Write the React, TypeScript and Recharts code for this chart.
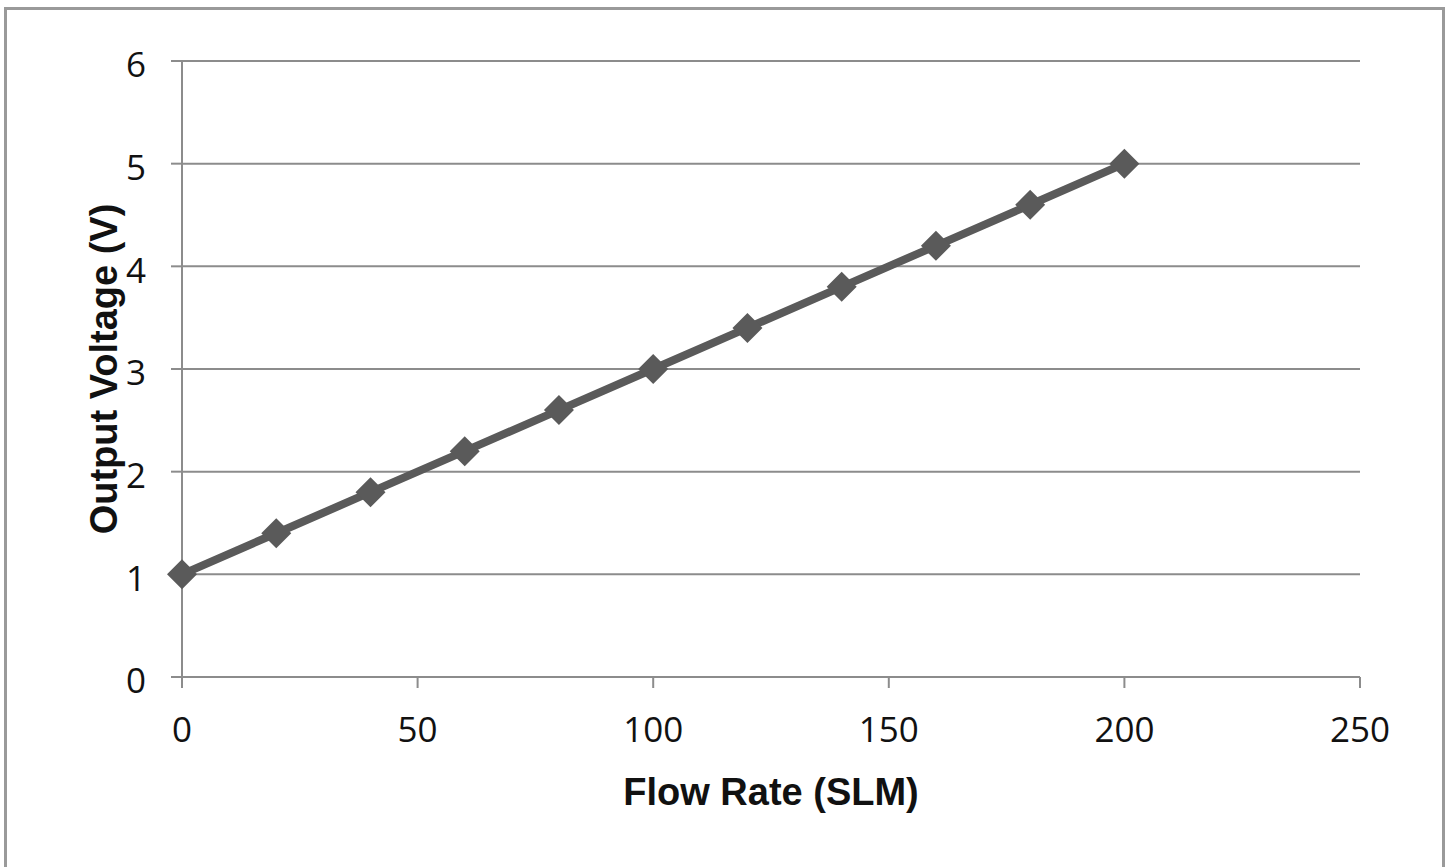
import React from 'react';
import { LineChart, Line, XAxis, YAxis, CartesianGrid } from 'recharts';

// flow rate (SLM) vs output voltage (V)
const flowRates = [0, 20, 40, 60, 80, 100, 120, 140, 160, 180, 200];
const voltages = [1, 1.4, 1.8, 2.2, 2.6, 3.0, 3.4, 3.8, 4.2, 4.6, 5.0];
const xTicks = [0, 50, 100, 150, 200, 250];
const yTicks = [0, 1, 2, 3, 4, 5, 6];

const data = flowRates.map((flow, i) => ({ flow, volt: voltages[i] }));

const GRID = '#8c8c8c';
const LINE = '#5a5a5a';
const tickFont = { fontFamily: '"Open Sans", sans-serif', fontSize: 35, fill: '#111' };
const labelFont = { fontFamily: '"Liberation Sans", Arial, sans-serif', fontSize: 38, fontWeight: 'bold', fill: '#111' };

const Diamond = (props: any) => {
    const { cx, cy } = props;
    if (cx == null || cy == null) return null;
    const r = 15;
    return (
        <polygon
            points={`${cx},${cy - r} ${cx + r},${cy} ${cx},${cy + r} ${cx - r},${cy}`}
            fill={LINE}
        />
    );
};

export default function App() {
    return (
        <div style={{ position: 'absolute', left: 0, top: 0, width: 1448, height: 867, background: '#fff', overflow: 'hidden' }}>
            <div
                style={{
                    position: 'absolute',
                    left: 4,
                    top: 7,
                    width: 1435,
                    height: 900,
                    borderLeft: '3px solid #9a9a9a',
                    borderTop: '3px solid #9a9a9a',
                    borderRight: '3px solid #9a9a9a',
                }}
            />
            <div style={{ position: 'absolute', left: 0, top: 0 }}>
                <LineChart width={1448} height={867} data={data} margin={{ top: 61, right: 88, bottom: 0, left: 0 }}>
                    <CartesianGrid vertical={false} stroke={GRID} strokeWidth={2} />
                    <XAxis
                        dataKey="flow"
                        type="number"
                        domain={[0, 250]}
                        ticks={xTicks}
                        interval={0}
                        height={190}
                        stroke={GRID}
                        strokeWidth={2}
                        tickSize={11}
                        tickMargin={29}
                        tick={tickFont}
                        tickLine={{ stroke: GRID, strokeWidth: 2 }}
                        label={{ value: 'Flow Rate (SLM)', position: 'insideTop', offset: 101, style: labelFont }}
                    />
                    <YAxis
                        type="number"
                        domain={[0, 6]}
                        ticks={yTicks}
                        interval={0}
                        width={182}
                        stroke={GRID}
                        strokeWidth={2}
                        tickSize={11}
                        tickMargin={25}
                        tick={{ ...tickFont, dy: 4 }}
                        tickLine={{ stroke: GRID, strokeWidth: 2 }}
                        label={{ value: 'Output Voltage (V)', angle: -90, position: 'center', dx: 13, style: labelFont }}
                    />
                    <Line
                        dataKey="volt"
                        stroke={LINE}
                        strokeWidth={8}
                        dot={Diamond}
                        activeDot={false}
                        isAnimationActive={false}
                    />
                </LineChart>
            </div>
        </div>
    );
}
